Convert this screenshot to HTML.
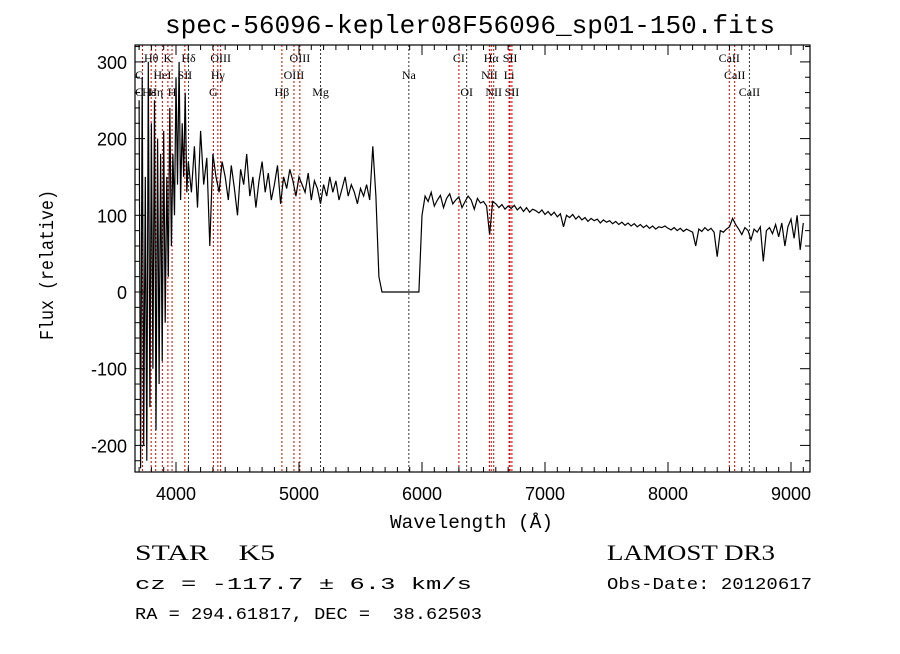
<!DOCTYPE html>
<html><head><meta charset="utf-8"><style>
body{margin:0;background:#fff;}
svg text{fill:#000;}
.sans{font-family:"Liberation Sans",sans-serif;}
.mono{font-family:"Liberation Mono",monospace;}
.serif{font-family:"Liberation Serif",serif;}
.lab{font-family:"Liberation Serif",serif;font-size:12px;}
</style></head><body>
<svg id="chart" width="900" height="649" viewBox="0 0 900 649" xmlns="http://www.w3.org/2000/svg">
<rect width="900" height="649" fill="#fff"/>
<text class="mono" x="165" y="33" font-size="26" textLength="610" lengthAdjust="spacingAndGlyphs">spec-56096-kepler08F56096_sp01-150.fits</text>
<g id="lines"></g>
<g id="labels"></g>
<g id="ticks"></g>
<polyline id="spec" fill="none" stroke="#000" stroke-width="1.2"/>
<rect x="135" y="45" width="675" height="427" fill="none" stroke="#000" stroke-width="1.2"/>
<text class="mono" x="390" y="528" font-size="19" textLength="163" lengthAdjust="spacingAndGlyphs">Wavelength (Å)</text>
<text class="mono" transform="translate(53,340) rotate(-90)" font-size="19" textLength="150" lengthAdjust="spacingAndGlyphs">Flux (relative)</text>
<text class="serif" x="135" y="560" font-size="22" xml:space="preserve" textLength="140" lengthAdjust="spacingAndGlyphs">STAR    K5</text>
<text class="serif" x="607" y="560" font-size="22" textLength="168" lengthAdjust="spacingAndGlyphs">LAMOST DR3</text>
<text class="mono" x="135" y="589" font-size="17" textLength="337" lengthAdjust="spacingAndGlyphs">cz = -117.7 ± 6.3 km/s</text>
<text class="mono" x="607" y="589" font-size="17" textLength="205" lengthAdjust="spacingAndGlyphs">Obs-Date: 20120617</text>
<text class="mono" x="135" y="619" font-size="17" xml:space="preserve" textLength="347" lengthAdjust="spacingAndGlyphs">RA = 294.61817, DEC =  38.62503</text>
</svg>
<script>
const xTicks=[4000,5000,6000,7000,8000,9000];
const yTicks=[-200,-100,0,100,200,300];
const fluxBlue=[250,-230,280,-200,150,-220,300,-150,220,-100,250,-180,200,-120,180,-90,210,-40,150,20,240,60,180,100,280,140,300,120,220,150,260,130];
const fluxA=[170,130,190,110,210,140,175,60,180,150,130,170,
150,120,165,135,100,160,140,180,125,150,110,145,170,130,155,120,140,165,115,150,135,160,145,125,150,140,130,155,120,145,135,115,140,125,150,130,145,120,135,150,125,140,130,115,135,125,140,120,
190,125];
const fluxGap=[20,0,0,0,0,0,0,0,0,0,0,0,0,0];
const fluxRed=[100,125,118,130,112,120,126,110,122,128,115,120,124,110,118,125,120,108,122,116,118,112,75,118];
const fluxIR=[115,110,114,108,112,109,113,107,111,105,110,104,108,106,103,107,101,105,100,104,98,102,85,
100,97,101,95,99,94,97,92,96,93,95,90,94,91,93,89,92,88,91,87,90,86,89,85,88,84,87,83,86,82,85,84,86,83,81,84,80,83,79,82,80,78,
60,82,79,84,80,83,78,46,80,78,82,85,96,88,82,
75,84,80,68,82,78,85,40,80,84,76,88,72,90,60,85,95,70,100,55,90];
const lineWl=[3727,3798,3835,3889,3934,3968,4072,4102,4304,4340,4363,4861,4959,5007,5175,5893,6300,6363,6548,6563,6583,6708,6716,6731,8498,8542,8662];
const lineColors=["#c00","#c00","#c00","#c00","#c00","#c00","#c00","#333","#c00","#c00","#c00","#c00","#c00","#c00","#333","#333","#c00","#333","#c00","#c00","#c00","#c00","#c00","#c00","#c00","#c00","#333"];
const labText=["Hθ","K","Hδ","OIII","OIII","CI","Hα","SII","CaII","C","HeI","SII","Hγ","OIII","Na","NII","Li","CaII","C","Hε","Hη","H","G","Hβ","Mg","OI","NII","SII","CaII"];
const labWl=[3798,3934,4102,4363,5007,6300,6563,6716,8498,3700,3889,4072,4340,4959,5893,6548,6708,8542,3700,3780,3835,3968,4304,4861,5175,6363,6583,6731,8662];
const labRow=[0,0,0,0,0,0,0,0,0,1,1,1,1,1,1,1,1,1,2,2,2,2,2,2,2,2,2,2,2];
const NS="http://www.w3.org/2000/svg";
const X0=135,X1=810,Y0=45,Y1=472;
function xs(w){return 176+(w-4000)*0.123;}
function ys(v){return 292-v*0.767;}
function mk(t,a,p){const e=document.createElementNS(NS,t);for(const k in a)e.setAttribute(k,a[k]);p.appendChild(e);return e;}
const gL=document.getElementById('lines');
lineWl.forEach((w,i)=>{const l=mk('line',{x1:xs(w),x2:xs(w),y1:Y0,y2:Y1,stroke:lineColors[i],'stroke-width':1,'stroke-dasharray':'2,2'},gL);

});
const gT=document.getElementById('labels');
labText.forEach((t,i)=>{const e=mk('text',{x:Math.max(xs(labWl[i]),132),y:62+labRow[i]*17,'text-anchor':'middle','class':'lab'},gT);e.textContent=t;

});
const gK=document.getElementById('ticks');
for(let w=3700;w<=9100;w+=100){const big=w%1000===0;const L=big?10:5;
mk('line',{x1:xs(w),x2:xs(w),y1:Y1,y2:Y1-L,stroke:'#000'},gK);mk('line',{x1:xs(w),x2:xs(w),y1:Y0,y2:Y0+L,stroke:'#000'},gK);}
for(let v=-220;v<=320;v+=20){const big=v%100===0;const L=big?10:5;
mk('line',{x1:X0,x2:X0+L,y1:ys(v),y2:ys(v),stroke:'#000'},gK);mk('line',{x1:X1,x2:X1-L,y1:ys(v),y2:ys(v),stroke:'#000'},gK);}
xTicks.forEach(w=>{const e=mk('text',{x:xs(w),y:500,'text-anchor':'middle','font-size':18,'class':'sans'},gK);e.textContent=w;

});
yTicks.forEach(v=>{const e=mk('text',{x:127,y:ys(v)+7,'text-anchor':'end','font-size':18,'class':'sans'},gK);e.textContent=v;

});
const pts=[];
fluxBlue.forEach((f,i)=>pts.push([3700+i*12.5,f]));
fluxA.concat(fluxGap,fluxRed,fluxIR).forEach((f,i)=>pts.push([4100+i*25,f]));
document.getElementById('spec').setAttribute('points',pts.filter(p=>p[0]<=9140).map(p=>xs(p[0]).toFixed(1)+','+Math.min(Math.max(ys(p[1]),Y0),Y1).toFixed(1)).join(' '));
</script>
</body></html>
